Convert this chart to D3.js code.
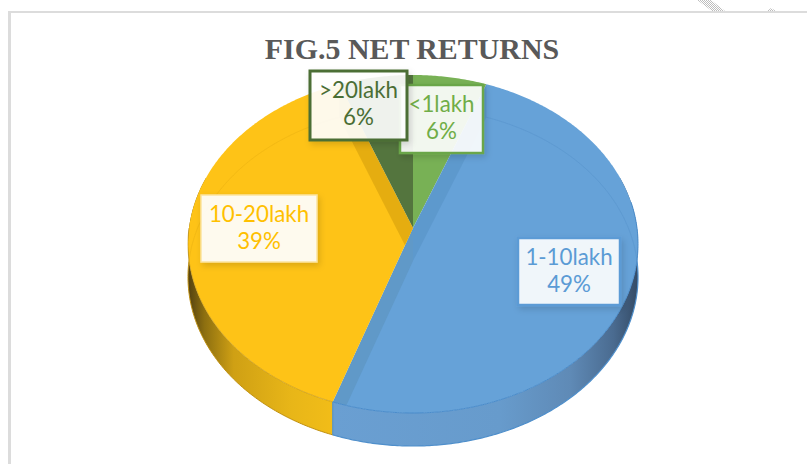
<!DOCTYPE html>
<html><head><meta charset="utf-8">
<script src="https://cdn.jsdelivr.net/npm/d3@7"></script>
<style>html,body{margin:0;padding:0;background:#fff;overflow:hidden}svg{display:block}</style>
</head><body><svg id="c" width="807" height="464"></svg>
<script>
const categories = ["<1lakh", "1-10lakh", "10-20lakh", ">20lakh"];
const shares = [5.8, 49.49, 38.9, 5.81];
const percentLabels = ["6%", "49%", "39%", "6%"];
const sliceColors = ["#78b155", "#66a2d8", "#fec317", "#54753e"];
const textColors = ["#70ad47", "#5b9bd5", "#ffc000", "#4b6e35"];
const titleText = "FIG.5 NET RETURNS";

// label-box layout
const boxLayout = [
  {x:400,y:85,w:83,h:68,bw:2.5,op:.9,bc:"#6aa648"},
  {x:518,y:238,w:102,h:67,bw:2.5,op:.9,bc:"#5b9bd5"},
  {x:201,y:195,w:116,h:67,bw:1.5,op:.92,bc:"#fbe3a0"},
  {x:310,y:71,w:97,h:69,bw:3,op:.9,bc:"#4b6e35"}
];
const order = [0,1,2,3];
const cx=413, cy=228, depth=33, k=0.0947;
const xS=d3.scaleLinear().domain([-1,1]).range([cx-224,cx+224]);
const yS=d3.scaleLinear().domain([-1,1]).range([cy+167.5,cy-167.5]);
const proj=(t,dy=0)=>{const w=1+k*Math.cos(t);return [xS(Math.sin(t)/w),yS(Math.cos(t)/w)+dy];};
const arcs=d3.pie().sort(null).value(d=>d)(shares);
const line=d3.line();
const rim=(a,b,dy=0)=>{const n=Math.max(2,Math.ceil(Math.abs(b-a)/0.01));return d3.range(n+1).map(i=>proj(a+(b-a)*i/n,dy));};
const apex=(dy=0)=>[cx,cy+dy];

const svg=d3.select("#c");
const defs=svg.append("defs");
const hatch=defs.append("pattern").attr("id","h").attr("width",2).attr("height",2).attr("patternUnits","userSpaceOnUse");
hatch.append("rect").attr("width",1).attr("height",1).attr("fill","#bdbdbd");
hatch.append("rect").attr("x",1).attr("y",1).attr("width",1).attr("height",1).attr("fill","#bdbdbd");
const g1=defs.append("linearGradient").attr("id","wy").attr("gradientUnits","userSpaceOnUse").attr("x1",190).attr("x2",335).attr("y1",0).attr("y2",0);
[[0,"#5a4610"],[.1,"#8d6f10"],[.3,"#cfa014"],[.7,"#e8b618"],[1,"#f2bd18"]].forEach(s=>g1.append("stop").attr("offset",s[0]).attr("stop-color",s[1]));
const g2=defs.append("linearGradient").attr("id","wb").attr("gradientUnits","userSpaceOnUse").attr("x1",331).attr("x2",638).attr("y1",0).attr("y2",0);
[[0,"#6a9fd2"],[.55,"#679bcc"],[.78,"#5f8ab6"],[.92,"#4a6b90"],[1,"#344b66"]].forEach(s=>g2.append("stop").attr("offset",s[0]).attr("stop-color",s[1]));
const f=defs.append("filter").attr("id","sh").attr("x","-20%").attr("y","-20%").attr("width","150%").attr("height","150%");
f.append("feDropShadow").attr("dx",2).attr("dy",3).attr("stdDeviation",3).attr("flood-color","#000").attr("flood-opacity",.15);

// chart frame
svg.append("path").attr("d","M697,0 L711,0 L725,11 L712,11 Z").attr("fill","url(#h)");
svg.append("path").attr("d","M767,11 L771,8 L776,11 Z").attr("fill","url(#h)");
svg.append("rect").attr("x",8).attr("y",11).attr("width",799).attr("height",2).attr("fill","#dcdcdc");
svg.append("rect").attr("x",8).attr("y",11).attr("width",3).attr("height",453).attr("fill","#dcdcdc");

// title
svg.append("text").attr("x",412).attr("y",59).attr("text-anchor","middle")
  .attr("font-family","'Liberation Serif'").attr("font-weight","bold").attr("font-size",29.9).attr("fill","#595959").text(titleText);

// outer walls
const wallPath=(a,b)=>{const top=rim(a,b),bot=rim(b,a,depth);return line(top.concat(bot))+"Z";};
const yellow=arcs[2], blue=arcs[1];
svg.append("path").attr("d",wallPath(yellow.startAngle,Math.PI*1.6)).attr("fill","url(#wy)");
svg.append("path").attr("d",wallPath(Math.PI*0.4,blue.endAngle)).attr("fill","url(#wb)");
svg.append("path").attr("d",line(rim(Math.PI*0.45,blue.endAngle,depth))).attr("fill","none").attr("stroke","#4f8fcb").attr("stroke-width",1.2);
svg.append("path").attr("d",line(rim(blue.endAngle,Math.PI*1.55,depth))).attr("fill","none").attr("stroke","#c09010").attr("stroke-width",1);

// top faces
const wedge=(d,dy=0)=>line([apex(dy)].concat(rim(d.startAngle,d.endAngle,dy)))+"Z";
arcs.forEach((d,i)=>{
  defs.append("clipPath").attr("id","cl"+i).append("path").attr("d",wedge(d));
  svg.append("path").attr("d",wedge(d)).attr("fill",sliceColors[i]);
});

// translucent cut walls seen through the faces
const band=(t)=>{const a=proj(t),b=proj(t,depth);return line([apex(),a,b,apex(depth)])+"Z";};
const inside=(i,sel)=>sel.attr("clip-path",`url(#cl${i})`);
inside(1,svg.append("path").attr("d",band(blue.startAngle)).attr("fill","#4f8cbf").attr("opacity",.4));
inside(1,svg.append("path").attr("d",band(blue.endAngle)).attr("fill","#5a90b8").attr("opacity",.5));
inside(2,svg.append("path").attr("d",band(yellow.endAngle)).attr("fill","#dca50f").attr("opacity",.75));
// faint far rim inside the faces
inside(1,svg.append("path").attr("d",line(rim(blue.startAngle,Math.PI*0.55,depth))).attr("fill","none").attr("stroke","#4f8cc6").attr("stroke-width",1).attr("opacity",.35));
inside(2,svg.append("path").attr("d",line(rim(Math.PI*1.45,yellow.endAngle,depth))).attr("fill","none").attr("stroke","#e0a810").attr("stroke-width",1).attr("opacity",.35));
// top rim seam across the front, seen through the wall
svg.append("path").attr("d",line(rim(Math.PI*0.45,blue.endAngle))).attr("fill","none").attr("stroke","#4a8ccb").attr("stroke-width",1);
svg.append("path").attr("d",line(rim(blue.endAngle,Math.PI*1.5))).attr("fill","none").attr("stroke","#b98c10").attr("stroke-width",.8).attr("opacity",.7);
svg.append("path").attr("d",line([proj(blue.endAngle),proj(blue.endAngle,depth)])).attr("stroke","#4f8cbf").attr("stroke-width",1);

// data labels
order.forEach(i=>{
  const b=boxLayout[i];
  const g=svg.append("g");
  g.append("rect").attr("x",b.x).attr("y",b.y).attr("width",b.w).attr("height",b.h)
    .attr("fill","#fff").attr("fill-opacity",b.op).attr("stroke",b.bc).attr("stroke-width",b.bw).attr("filter","url(#sh)");
  [categories[i],percentLabels[i]].forEach((t,j)=>{
    const mx=b.x+b.w/2, my=b.y+27+j*27;
    g.append("text").attr("transform",`translate(${mx},${my}) scale(0.93,1)`).attr("text-anchor","middle")
      .attr("font-family","Lato").attr("font-size",24).attr("fill",textColors[i]).text(t);
  });
});
</script></body></html>
